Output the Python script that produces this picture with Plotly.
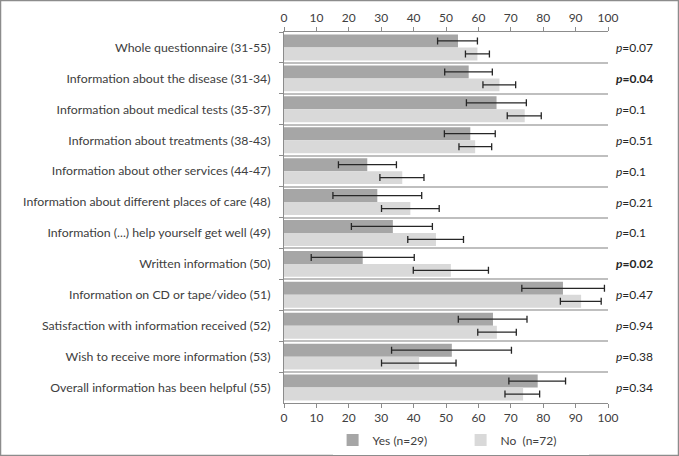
import plotly.graph_objects as go

categories = [
    "Whole questionnaire (31-55)",
    "Information about the disease (31-34)",
    "Information about medical tests (35-37)",
    "Information about treatments (38-43)",
    "Information about other services (44-47)",
    "Information about different places of care (48)",
    "Information (...) help yourself get well (49)",
    "Written information (50)",
    "Information on CD or tape/video (51)",
    "Satisfaction with information received (52)",
    "Wish to receive more information (53)",
    "Overall information has been helpful (55)",
]
yes_vals = [53.7, 57.0, 65.6, 57.5, 25.7, 28.8, 33.6, 24.3, 86.1, 64.5, 51.8, 78.3]
yes_low = [47.4, 49.6, 56.3, 49.5, 16.8, 15.1, 20.8, 8.4, 73.4, 53.8, 33.2, 69.4]
yes_high = [59.7, 64.3, 74.8, 65.2, 34.7, 42.5, 45.8, 40.2, 98.9, 75.0, 70.2, 86.9]
no_vals = [59.7, 66.5, 74.3, 59.0, 36.5, 39.0, 46.9, 51.5, 91.7, 65.7, 41.7, 73.8]
no_low = [56.0, 61.4, 68.9, 54.0, 29.6, 30.1, 38.2, 39.9, 85.3, 59.8, 30.1, 68.2]
no_high = [63.4, 71.5, 79.4, 64.1, 43.2, 47.9, 55.4, 63.1, 97.9, 71.7, 53.1, 78.9]
p_values = ["0.07", "0.04", "0.1", "0.51", "0.1", "0.21", "0.1", "0.02", "0.47", "0.94", "0.38", "0.34"]
p_bold = [False, True, False, False, False, False, False, True, False, False, False, False]
tick_vals = [0, 10, 20, 30, 40, 50, 60, 70, 80, 90, 100]

FONT = "Lato"
TXT = "#404040"
AX = "#8c8c8c"

W, H = 679, 456
L, R, T, B = 284, 71, 32, 53
pw, ph = W - L - R, H - T - B

fig = go.Figure()
fig.add_trace(go.Bar(
    y=categories, x=yes_vals, orientation="h", name="Yes (n=29)",
    marker=dict(color="#a6a6a6", line=dict(width=0)),
    error_x=dict(type="data", symmetric=False,
                 array=[h - v for h, v in zip(yes_high, yes_vals)],
                 arrayminus=[v - l for l, v in zip(yes_low, yes_vals)],
                 color="#262626", thickness=1.3, width=3.5),
))
fig.add_trace(go.Bar(
    y=categories, x=no_vals, orientation="h", name="No\u00a0 (n=72)",
    marker=dict(color="#d9d9d9", line=dict(width=0)),
    error_x=dict(type="data", symmetric=False,
                 array=[h - v for h, v in zip(no_high, no_vals)],
                 arrayminus=[v - l for l, v in zip(no_low, no_vals)],
                 color="#262626", thickness=1.3, width=3.5),
))
# invisible trace to drive the bottom axis
fig.add_trace(go.Scatter(x=[0, 100], y=[categories[0], categories[0]], xaxis="x2",
                         mode="markers", marker=dict(opacity=0), showlegend=False,
                         hoverinfo="skip"))

for cat, p, b in zip(categories, p_values, p_bold):
    txt = "<i>p</i>=" + p
    if b:
        txt = "<b>" + txt + "</b>"
    fig.add_annotation(x=1.018, xref="paper", y=cat, yref="y", text=txt,
                       showarrow=False, xanchor="left",
                       font=dict(family=FONT, size=12, color="#262626"))

axis_common = dict(range=[0, 100], tickvals=tick_vals, showgrid=False, zeroline=False,
                   showline=True, linecolor=AX, linewidth=1, ticks="outside", ticklen=4,
                   tickcolor=AX, tickfont=dict(family=FONT, size=12, color=TXT),
                   automargin=False)

fig.update_layout(
    width=W, height=H,
    margin=dict(l=L, r=R, t=T, b=B, autoexpand=False),
    paper_bgcolor="white", plot_bgcolor="white",
    barmode="group", bargap=0.16, bargroupgap=0.0,
    xaxis=dict(side="top", **axis_common),
    xaxis2=dict(side="bottom", overlaying="x", anchor="y", **axis_common),
    yaxis=dict(range=[11.5, -0.5], tickson="boundaries", showgrid=True,
               gridcolor="#bfbfbf", gridwidth=1.5, showline=True, linecolor=AX,
               ticks="outside", ticklen=4, tickcolor=AX, automargin=False,
               tickfont=dict(family=FONT, size=12.3, color=TXT), ticklabelstandoff=10),
    legend=dict(orientation="h", x=0.15, y=0.035, xref="paper", yref="container",
                xanchor="left", yanchor="middle",
                font=dict(family=FONT, size=12, color=TXT), entrywidth=83,
                traceorder="normal", itemwidth=30),
    showlegend=True,
    shapes=[dict(type="rect", xref="paper", yref="paper",
                 x0=-L / pw + 0.5 / pw, x1=(W - L - 0.5) / pw,
                 y0=-B / ph + 0.5 / ph, y1=(H - B - 0.5) / ph,
                 line=dict(color="#8c8c8c", width=1.5), layer="below")],
)

fig.write_html("out.html", config={"displayModeBar": False},
               post_script="document.body.style.margin='0';")
